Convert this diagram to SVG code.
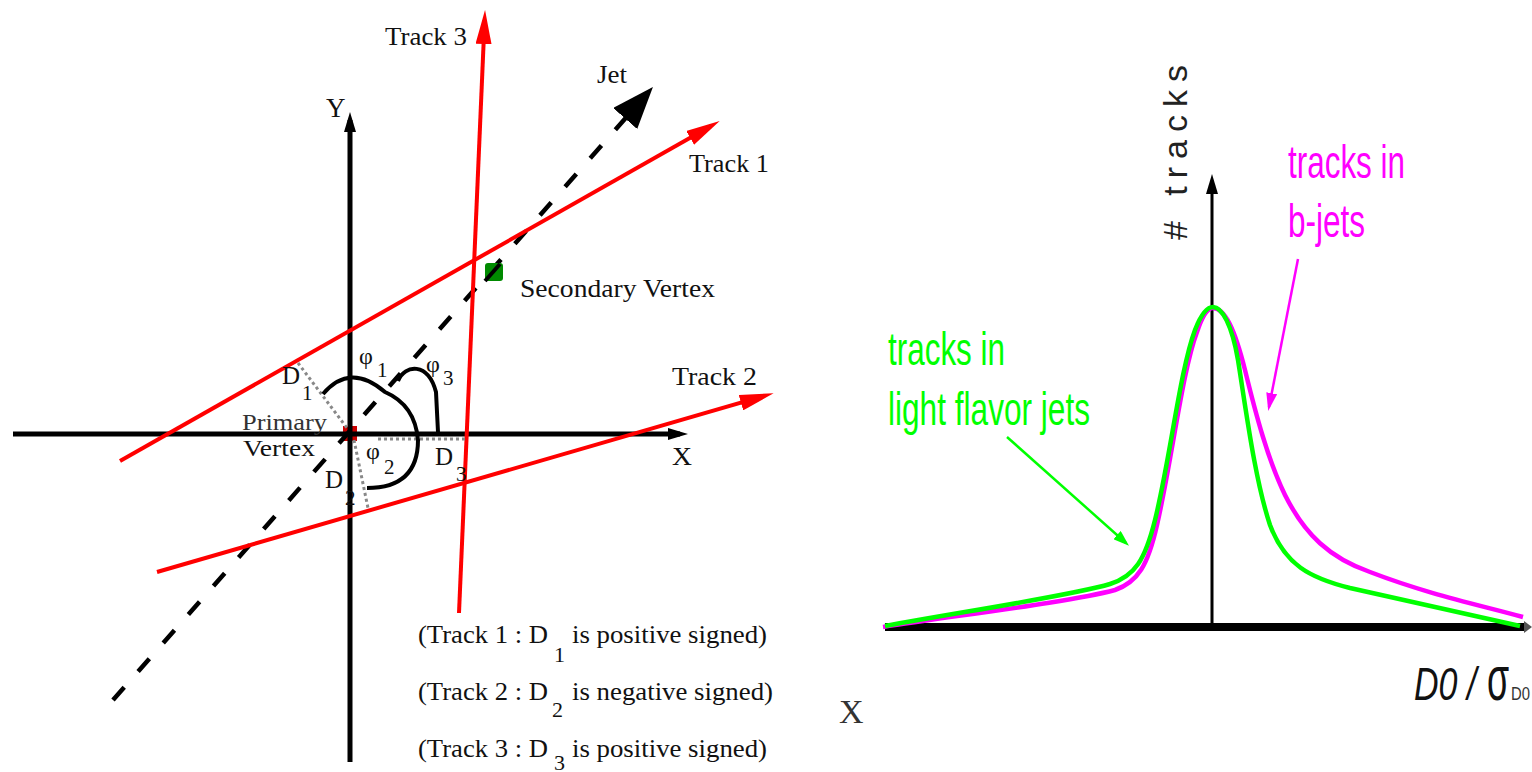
<svg xmlns="http://www.w3.org/2000/svg" width="1532" height="772" viewBox="0 0 1532 772">
<style>
.serif{font-family:"Liberation Serif","Times New Roman",serif;fill:#111}
.sans{font-family:"Liberation Sans",Arial,sans-serif}
.red{stroke:#ff0000;stroke-width:4;fill:none}
.axis{stroke:#000;fill:none}
.dot{stroke:#888;stroke-width:3;stroke-dasharray:3 3;fill:none}
.mag{fill:#ff00ff}
.grn{fill:#00ff00}
</style>
<defs>
<marker id="ar-red" markerUnits="userSpaceOnUse" markerWidth="34" markerHeight="16" viewBox="0 0 34 16" refX="24" refY="8" orient="auto"><path d="M0,0 L34,8 L0,16 z" fill="#ff0000"/></marker>
<marker id="ar-jet" markerUnits="userSpaceOnUse" markerWidth="42" markerHeight="32" viewBox="0 0 42 32" refX="30" refY="16" orient="auto"><path d="M0,0 L42,16 L0,32 z" fill="#000"/></marker>
<marker id="ar-axis" markerUnits="userSpaceOnUse" markerWidth="20" markerHeight="12" viewBox="0 0 20 12" refX="12" refY="6" orient="auto"><path d="M0,0 L20,6 L0,12 z" fill="#000"/></marker>
<marker id="ar-grn" markerUnits="userSpaceOnUse" markerWidth="16" markerHeight="11" viewBox="0 0 16 11" refX="12" refY="5.5" orient="auto"><path d="M0,0 L16,5.5 L0,11 z" fill="#00ff00"/></marker>
<marker id="ar-mag" markerUnits="userSpaceOnUse" markerWidth="18" markerHeight="11" viewBox="0 0 18 11" refX="14" refY="5.5" orient="auto"><path d="M0,0 L18,5.5 L0,11 z" fill="#ff00ff"/></marker>
</defs>
<rect width="1532" height="772" fill="#fff"/>

<!-- LEFT DIAGRAM -->
<g id="primary-vertex-mark"><rect x="343" y="426" width="14" height="15" fill="#cc0000"/></g>

<g id="connectors">
  <!-- axes -->
  <line class="axis" x1="13" y1="434" x2="680" y2="434" stroke-width="5" marker-end="url(#ar-axis)"/>
  <line class="axis" x1="350" y1="762" x2="350" y2="120" stroke-width="5" marker-end="url(#ar-axis)"/>
  <!-- jet -->
  <line x1="113" y1="700" x2="645" y2="96" stroke="#000" stroke-width="4.5" stroke-dasharray="17 21" marker-end="url(#ar-jet)"/>
  <!-- tracks -->
  <line class="red" x1="120" y1="461" x2="711" y2="126" marker-end="url(#ar-red)"/>
  <line class="red" x1="157" y1="572" x2="764" y2="396" marker-end="url(#ar-red)"/>
  <line class="red" x1="459" y1="613" x2="484.6" y2="20" marker-end="url(#ar-red)"/>
  <!-- impact parameter dotted lines -->
  <line class="dot" x1="298" y1="363" x2="347" y2="428"/>
  <line class="dot" x1="354" y1="440" x2="368" y2="508"/>
  <line class="dot" x1="378" y1="439" x2="467" y2="439"/>
  <!-- angle arcs -->
  <path d="M323,394 Q350,362 385,392 Q415,405 418,440 Q418,488 367,488" stroke="#000" stroke-width="4" fill="none"/>
  <path d="M398,381 C405,364 428,362 436,392 L438,432" stroke="#000" stroke-width="4" fill="none"/>
  <!-- right plot axes -->
  <line x1="885" y1="627" x2="1524" y2="627" stroke="#000" stroke-width="8"/>
  <path d="M1524,621 L1532,627 L1524,633 z" fill="#555"/>
  <line x1="1212" y1="627" x2="1212" y2="182" stroke="#000" stroke-width="3" marker-end="url(#ar-axis)"/>
  <!-- distributions -->
  <path d="M883,627 C960,615 1070,602 1115,590 C1138,582 1148,565 1157,525 C1172,460 1182,372 1197,332 C1203,314 1208,308 1213,308 C1225,308 1235,330 1245,370 C1256,415 1268,460 1285,495 C1305,535 1330,558 1370,572 C1430,595 1480,605 1523,617" stroke="#ff00ff" stroke-width="4.5" fill="none"/>
  <path d="M885,626 C960,612 1070,596 1110,584 C1135,576 1145,560 1155,520 C1170,460 1180,370 1195,330 C1202,312 1208,307 1213,307 C1222,307 1232,325 1238,360 C1246,410 1255,480 1270,525 C1285,565 1310,578 1350,588 C1420,604 1480,617 1520,626" stroke="#00ff00" stroke-width="4.5" fill="none"/>
  <!-- annotation arrows -->
  <line x1="1007" y1="437" x2="1126" y2="543" stroke="#00ff00" stroke-width="2.5" marker-end="url(#ar-grn)"/>
  <line x1="1298" y1="259" x2="1269" y2="407" stroke="#ff00ff" stroke-width="2.5" marker-end="url(#ar-mag)"/>
</g>

<g id="secondary-vertex">
  <rect x="485" y="263" width="18" height="18" rx="3" fill="#008a00"/>
  <line x1="485" y1="281" x2="500" y2="264" stroke="#000" stroke-width="4"/>
  <text class="serif" x="520" y="297" font-size="26" textLength="195" lengthAdjust="spacingAndGlyphs">Secondary Vertex</text>
</g>

<g id="axis-labels">
  <text class="serif" x="326" y="117" font-size="27">Y</text>
  <text class="serif" x="672" y="465" font-size="26" textLength="20" lengthAdjust="spacingAndGlyphs">X</text>
</g>
<g id="track1"><text class="serif" x="689" y="172" font-size="26" textLength="80" lengthAdjust="spacingAndGlyphs">Track 1</text></g>
<g id="track2"><text class="serif" x="672" y="385" font-size="26" textLength="85" lengthAdjust="spacingAndGlyphs">Track 2</text></g>
<g id="track3"><text class="serif" x="385" y="45" font-size="26" textLength="82" lengthAdjust="spacingAndGlyphs">Track 3</text></g>
<g id="jet"><text class="serif" x="597" y="83" font-size="26" textLength="30" lengthAdjust="spacingAndGlyphs">Jet</text></g>

<g id="primary-vertex">
  <text class="serif" x="242" y="430" font-size="24" textLength="85" lengthAdjust="spacingAndGlyphs" style="fill:#333">Primary</text>
  <text class="serif" x="243" y="456" font-size="24" textLength="72" lengthAdjust="spacingAndGlyphs">Vertex</text>
</g>

<g id="angles">
  <text class="serif" x="359" y="364" font-size="24">φ</text><text class="serif" x="377" y="377" font-size="21">1</text>
  <text class="serif" x="426" y="372" font-size="24">φ</text><text class="serif" x="443" y="385" font-size="21">3</text>
  <text class="serif" x="366" y="459" font-size="24">φ</text><text class="serif" x="384" y="474" font-size="21">2</text>
</g>
<g id="distances">
  <text class="serif" x="282" y="384" font-size="25">D</text><text class="serif" x="302" y="400" font-size="21">1</text>
  <text class="serif" x="325" y="488" font-size="25">D</text><text class="serif" x="345" y="505" font-size="21">2</text>
  <text class="serif" x="435" y="465" font-size="25">D</text><text class="serif" x="456" y="481" font-size="21">3</text>
</g>

<g id="notes">
  <text class="serif" x="418" y="643" font-size="25" textLength="130" lengthAdjust="spacingAndGlyphs">(Track 1 : D</text>
  <text class="serif" x="554" y="662" font-size="22">1</text>
  <text class="serif" x="572" y="643" font-size="25" textLength="195" lengthAdjust="spacingAndGlyphs">is positive signed)</text>
  <text class="serif" x="418" y="700" font-size="25" textLength="130" lengthAdjust="spacingAndGlyphs">(Track 2 : D</text>
  <text class="serif" x="552" y="717" font-size="22">2</text>
  <text class="serif" x="572" y="700" font-size="25" textLength="201" lengthAdjust="spacingAndGlyphs">is negative signed)</text>
  <text class="serif" x="418" y="757" font-size="25" textLength="130" lengthAdjust="spacingAndGlyphs">(Track 3 : D</text>
  <text class="serif" x="554" y="770" font-size="22">3</text>
  <text class="serif" x="572" y="757" font-size="25" textLength="195" lengthAdjust="spacingAndGlyphs">is positive signed)</text>
</g>

<g id="x-label"><text class="serif" x="839" y="723" font-size="34" style="fill:#333">X</text></g>

<!-- RIGHT DIAGRAM -->
<g id="y-title"><text class="sans" transform="translate(1187,240) rotate(-90)" font-size="34" textLength="175" lengthAdjust="spacing" fill="#222">#  tracks</text></g>
<g id="b-jets-label">
  <text class="sans mag" x="1288" y="178" font-size="46" textLength="117" lengthAdjust="spacingAndGlyphs">tracks in</text>
  <text class="sans mag" x="1288" y="237" font-size="46" textLength="77" lengthAdjust="spacingAndGlyphs">b-jets</text>
</g>
<g id="light-jets-label">
  <text class="sans grn" x="888" y="365" font-size="46" textLength="117" lengthAdjust="spacingAndGlyphs">tracks in</text>
  <text class="sans grn" x="888" y="425" font-size="46" textLength="202" lengthAdjust="spacingAndGlyphs">light flavor jets</text>
</g>
<g id="x-title">
  <text class="sans" transform="translate(1414,700) scale(0.74,1)" font-size="46" font-style="italic" fill="#111">D0 /</text>
  <text class="sans" transform="translate(1487,700) scale(0.78,1.35)" font-size="46" fill="#111">σ</text>
  <text class="sans" x="1511" y="700" font-size="18" textLength="19" lengthAdjust="spacingAndGlyphs" fill="#333">D0</text>
</g>
</svg>
